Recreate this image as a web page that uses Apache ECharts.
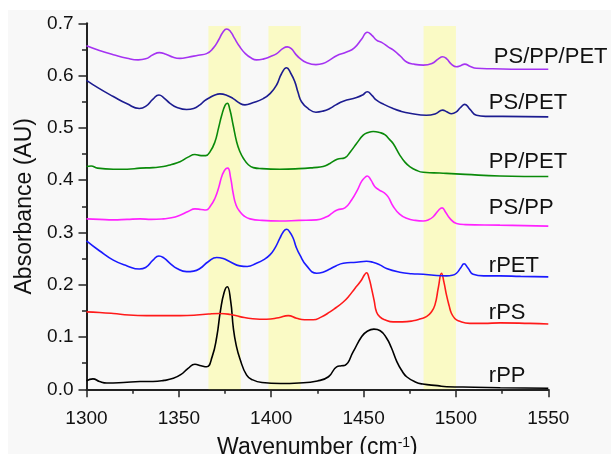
<!DOCTYPE html>
<html>
<head>
<meta charset="utf-8">
<script src="https://cdn.jsdelivr.net/npm/echarts@6/dist/echarts.min.js"></script>
<style>
  html, body { margin: 0; padding: 0; background: #ffffff; }
  #chart { width: 611px; height: 454px; }
</style>
</head>
<body>
<div id="chart"></div>
<script>
// FTIR absorbance spectra, 1300-1550 cm-1, stacked with vertical offsets.

// rPP
const wnPP = [1300, 1303.5, 1307, 1311, 1320, 1329, 1336, 1342, 1347, 1351, 1355, 1358.7, 1362, 1365, 1368, 1370.5, 1372.5, 1374.5, 1376.2, 1378, 1379.5, 1381, 1383, 1386.7, 1390, 1395, 1405, 1415, 1425, 1431, 1435.4, 1438, 1440, 1444.4, 1449, 1452, 1455.6, 1459, 1462.4, 1465, 1468, 1471, 1473.3, 1478, 1482, 1490, 1495, 1510, 1524, 1550];
const absPP = [0.016, 0.020, 0.015, 0.012, 0.013, 0.015, 0.015, 0.017, 0.021, 0.028, 0.040, 0.048, 0.045, 0.043, 0.062, 0.100, 0.150, 0.185, 0.196, 0.170, 0.117, 0.085, 0.059, 0.027, 0.018, 0.013, 0.011, 0.012, 0.016, 0.024, 0.043, 0.045, 0.046, 0.072, 0.101, 0.111, 0.115, 0.112, 0.098, 0.080, 0.053, 0.034, 0.024, 0.014, 0.010, 0.007, 0.005, 0.004, 0.003, 0.002];

// rPS
const wnPS = [1300, 1307, 1314.5, 1323, 1332.6, 1341, 1350.6, 1359.6, 1366, 1372.2, 1378, 1383, 1390, 1397.5, 1404, 1409.2, 1413.7, 1418, 1422.7, 1427, 1431.8, 1435, 1439, 1442, 1445.3, 1448.5, 1450.5, 1451.6, 1453, 1454.3, 1455.7, 1457, 1459, 1461.5, 1466, 1471, 1476.8, 1481, 1484, 1486.5, 1488.6, 1490.5, 1492.2, 1493.5, 1494.9, 1496.3, 1497.6, 1499.5, 1501.2, 1507.5, 1515, 1524, 1540, 1550];
const absPS = [0.148, 0.147, 0.145, 0.142, 0.141, 0.141, 0.141, 0.142, 0.144, 0.145, 0.143, 0.139, 0.135, 0.134, 0.137, 0.141, 0.136, 0.133, 0.133, 0.138, 0.148, 0.156, 0.167, 0.178, 0.193, 0.207, 0.219, 0.223, 0.212, 0.193, 0.170, 0.148, 0.138, 0.133, 0.129, 0.129, 0.131, 0.135, 0.139, 0.147, 0.161, 0.195, 0.222, 0.205, 0.180, 0.160, 0.145, 0.135, 0.131, 0.126, 0.126, 0.127, 0.126, 0.125];

// rPET
const wnPET = [1300, 1307, 1314.5, 1322, 1328.6, 1332, 1336, 1339.2, 1342, 1345.2, 1349, 1354.2, 1358, 1361.4, 1365.9, 1370.5, 1374, 1377.7, 1383, 1387, 1392, 1396, 1399.3, 1402, 1404.7, 1406.5, 1408.3, 1410, 1411.9, 1413.5, 1415.5, 1419, 1424.6, 1428, 1431.8, 1435, 1439, 1446.2, 1451.6, 1455, 1458.8, 1462.4, 1469.6, 1476, 1482.3, 1488, 1494.9, 1498, 1500.3, 1502.5, 1504.4, 1506.5, 1509.3, 1515, 1523.8, 1535, 1550];
const absPET = [0.284, 0.265, 0.247, 0.236, 0.230, 0.233, 0.247, 0.255, 0.251, 0.241, 0.231, 0.225, 0.226, 0.231, 0.244, 0.252, 0.250, 0.244, 0.236, 0.235, 0.241, 0.248, 0.257, 0.270, 0.289, 0.301, 0.306, 0.301, 0.289, 0.272, 0.257, 0.237, 0.222, 0.224, 0.230, 0.236, 0.241, 0.243, 0.245, 0.243, 0.238, 0.231, 0.224, 0.221, 0.220, 0.218, 0.217, 0.218, 0.222, 0.232, 0.240, 0.232, 0.220, 0.217, 0.217, 0.216, 0.215];

// PS/PP
const wnPSPP = [1300, 1307, 1314.5, 1322, 1329, 1335, 1341.6, 1346, 1350.6, 1355, 1358.7, 1362, 1364.7, 1367, 1369.5, 1371.5, 1373.5, 1375.5, 1376.5, 1378, 1379.4, 1381, 1383, 1385.5, 1388.5, 1395, 1404.7, 1415, 1424.6, 1430, 1433, 1435.7, 1439.9, 1443.5, 1446.5, 1449, 1451, 1452, 1454, 1456, 1458.5, 1461, 1463.3, 1466, 1469.5, 1473.3, 1478, 1482.3, 1485, 1487.7, 1490.5, 1492.5, 1494.5, 1496.7, 1500.3, 1505, 1523.8, 1550];
const absPSPP = [0.326, 0.325, 0.324, 0.325, 0.326, 0.325, 0.326, 0.328, 0.333, 0.340, 0.345, 0.344, 0.343, 0.350, 0.365, 0.385, 0.410, 0.422, 0.423, 0.405, 0.375, 0.352, 0.340, 0.331, 0.326, 0.323, 0.322, 0.323, 0.324, 0.330, 0.337, 0.343, 0.347, 0.362, 0.380, 0.398, 0.406, 0.408, 0.400, 0.388, 0.381, 0.376, 0.368, 0.350, 0.335, 0.327, 0.323, 0.322, 0.324, 0.330, 0.342, 0.347, 0.338, 0.327, 0.317, 0.315, 0.314, 0.312];

// PP/PET
const wnPPPET = [1300, 1302.5, 1306, 1314.5, 1322, 1329, 1336, 1341.6, 1346, 1350.6, 1355, 1358.7, 1362, 1364.5, 1367, 1369.5, 1371.5, 1373.2, 1375, 1376.2, 1377.6, 1379.4, 1381.3, 1383, 1384.9, 1387.5, 1390.3, 1395, 1404.7, 1415, 1423, 1428.1, 1431.8, 1435.7, 1439.9, 1443, 1446.2, 1449.8, 1452.5, 1455.2, 1458.8, 1461.5, 1464, 1466, 1469.6, 1472.5, 1475, 1478.5, 1482.3, 1488, 1494.9, 1505, 1523.8, 1550];
const absPPPET = [0.426, 0.427, 0.423, 0.421, 0.421, 0.423, 0.424, 0.426, 0.430, 0.435, 0.444, 0.449, 0.447, 0.447, 0.455, 0.473, 0.500, 0.524, 0.543, 0.547, 0.535, 0.505, 0.473, 0.455, 0.442, 0.430, 0.424, 0.422, 0.421, 0.422, 0.424, 0.426, 0.432, 0.440, 0.443, 0.455, 0.470, 0.486, 0.491, 0.493, 0.491, 0.487, 0.478, 0.470, 0.448, 0.434, 0.426, 0.419, 0.415, 0.414, 0.413, 0.411, 0.408, 0.407];

// PS/PET
const wnPSPET = [1300, 1307, 1314.5, 1322, 1328.6, 1332, 1336, 1339.2, 1342, 1345.2, 1349, 1354.2, 1358, 1361.4, 1364, 1366.8, 1369.5, 1372.2, 1375.5, 1379.4, 1383, 1385.8, 1390, 1395.7, 1399.5, 1402.9, 1405.5, 1408.3, 1410.5, 1412.8, 1414.5, 1416.4, 1420, 1424.2, 1428, 1431.7, 1435, 1439, 1446.2, 1449.5, 1452, 1454.5, 1457, 1461, 1466, 1470, 1475, 1484, 1489, 1492.8, 1495, 1497.6, 1500, 1502.5, 1504.8, 1507.5, 1511.1, 1516, 1525, 1550];
const absPSPET = [0.591, 0.575, 0.560, 0.546, 0.537, 0.541, 0.555, 0.563, 0.557, 0.547, 0.539, 0.535, 0.537, 0.544, 0.552, 0.558, 0.563, 0.565, 0.563, 0.556, 0.547, 0.544, 0.548, 0.556, 0.566, 0.582, 0.603, 0.615, 0.605, 0.588, 0.568, 0.550, 0.537, 0.530, 0.532, 0.537, 0.544, 0.551, 0.558, 0.563, 0.569, 0.562, 0.553, 0.545, 0.537, 0.532, 0.528, 0.524, 0.527, 0.534, 0.531, 0.527, 0.530, 0.539, 0.545, 0.536, 0.524, 0.522, 0.522, 0.521];

// PS/PP/PET
const wnPSPPPET = [1300, 1307, 1314.5, 1322, 1328, 1332, 1336, 1339.4, 1343, 1347, 1350.6, 1355, 1360.5, 1365, 1368.5, 1371.5, 1374, 1375.9, 1378, 1380, 1383, 1386, 1389, 1392, 1396, 1399.3, 1403, 1406, 1408.7, 1411, 1413, 1415.5, 1419, 1424.2, 1428, 1431.8, 1435.4, 1440.8, 1445, 1449, 1452, 1454.5, 1457, 1460, 1463.3, 1466, 1470, 1473.3, 1477, 1482.3, 1487, 1490.5, 1492.8, 1495, 1497.5, 1500.3, 1502.5, 1504.8, 1507.5, 1511.1, 1520, 1535, 1550];
const absPSPPPET = [0.657, 0.648, 0.640, 0.633, 0.630, 0.632, 0.640, 0.644, 0.641, 0.635, 0.633, 0.635, 0.639, 0.642, 0.652, 0.668, 0.684, 0.689, 0.684, 0.672, 0.655, 0.642, 0.634, 0.630, 0.632, 0.636, 0.642, 0.651, 0.655, 0.651, 0.642, 0.633, 0.625, 0.621, 0.623, 0.630, 0.638, 0.645, 0.653, 0.670, 0.683, 0.677, 0.668, 0.663, 0.655, 0.649, 0.637, 0.626, 0.622, 0.620, 0.623, 0.632, 0.636, 0.632, 0.622, 0.617, 0.619, 0.622, 0.618, 0.614, 0.613, 0.612, 0.612];

// Highlighted wavenumber windows
const bandStart = [1366, 1398.5, 1482.5];
const bandEnd = [1383.5, 1416, 1500];
const bandTop = 0.695;

// Axis ticks
const xTicks = [1300, 1350, 1400, 1450, 1500, 1550];
const yTicks = [0.0, 0.1, 0.2, 0.3, 0.4, 0.5, 0.6, 0.7];

const FONT = '"Liberation Sans", Arial, Helvetica, sans-serif';

const zip = (xs, ys) => xs.map((x, i) => [x, ys[i]]);

// name, x values, y values, colour, label anchor [wavenumber, absorbance]
const spectra = [
  { name: 'rPP',       x: wnPP,      y: absPP,      color: '#000000', tag: [1517.8, 0.026] },
  { name: 'rPS',       x: wnPS,      y: absPS,      color: '#ff1a1a', tag: [1517.8, 0.146] },
  { name: 'rPET',      x: wnPET,     y: absPET,     color: '#1a1aff', tag: [1517.8, 0.236] },
  { name: 'PS/PP',     x: wnPSPP,    y: absPSPP,    color: '#ff22ff', tag: [1517.8, 0.346] },
  { name: 'PP/PET',    x: wnPPPET,   y: absPPPET,   color: '#0a8a0a', tag: [1517.8, 0.435] },
  { name: 'PS/PET',    x: wnPSPET,   y: absPSPET,   color: '#1c1c90', tag: [1517.8, 0.547] },
  { name: 'PS/PP/PET', x: wnPSPPPET, y: absPSPPPET, color: '#a533f2', tag: [1520.5, 0.635] }
];

const series = spectra.map(s => ({
  name: s.name,
  type: 'line',
  data: zip(s.x, s.y),
  showSymbol: false,
  smooth: 0.5,
  lineStyle: { color: s.color, width: 1.6 },
  itemStyle: { color: s.color },
  z: 2,
  animation: false,
  markPoint: {
    silent: true,
    symbol: 'circle',
    symbolSize: 0,
    animation: false,
    label: {
      show: true,
      position: 'right',
      distance: 0,
      formatter: s.name,
      fontFamily: FONT,
      fontSize: 22,
      color: '#111111'
    },
    data: [{ coord: s.tag, value: s.name }]
  }
}));

// translucent yellow windows drawn over the spectra
series.push({
  name: 'bands',
  type: 'line',
  data: [],
  z: 5,
  silent: true,
  animation: false,
  markArea: {
    silent: true,
    animation: false,
    itemStyle: { color: 'rgba(255,255,80,0.30)' },
    data: bandStart.map((b, i) => [
      { xAxis: b, yAxis: 0 },
      { xAxis: bandEnd[i], yAxis: bandTop }
    ])
  }
});

const chart = echarts.init(document.getElementById('chart'), null, { renderer: 'canvas' });

chart.setOption({
  animation: false,
  backgroundColor: '#ffffff',
  graphic: [{
    type: 'rect',
    z: -10,
    silent: true,
    shape: { x: 8, y: 10, width: 603, height: 444 },
    style: { fill: '#f8f8f8' }
  }],
  grid: {
    left: 86.5,
    right: 62.7,
    top: 23.3,
    bottom: 64.7,
    containLabel: false,
    outerBoundsMode: 'none'
  },
  xAxis: {
    type: 'value',
    min: xTicks[0],
    max: xTicks[xTicks.length - 1],
    interval: xTicks[1] - xTicks[0],
    name: 'Wavenumber (cm{sup|-1})',
    nameLocation: 'middle',
    nameGap: 47,
    nameTextStyle: {
      fontFamily: FONT,
      fontSize: 23,
      color: '#111111',
      rich: {
        sup: { fontFamily: FONT, fontSize: 14, color: '#111111', verticalAlign: 'top' }
      }
    },
    axisLine: { show: true, onZero: false, lineStyle: { color: '#222222', width: 2 } },
    axisTick: { show: true, inside: false, length: 8, lineStyle: { color: '#222222', width: 1.5 } },
    minorTick: { show: true, splitNumber: 2, length: 4.5, lineStyle: { color: '#222222', width: 1.5 } },
    splitLine: { show: false },
    minorSplitLine: { show: false },
    axisLabel: {
      fontFamily: FONT,
      fontSize: 19,
      color: '#111111',
      margin: 20,
      formatter: v => String(v)
    }
  },
  yAxis: {
    type: 'value',
    min: yTicks[0],
    max: yTicks[yTicks.length - 1],
    interval: 0.1,
    name: 'Absorbance (AU)',
    nameLocation: 'middle',
    nameRotate: 90,
    nameGap: 50,
    nameTextStyle: { fontFamily: FONT, fontSize: 23, color: '#111111' },
    axisLine: { show: true, onZero: false, lineStyle: { color: '#222222', width: 2 } },
    axisTick: { show: true, inside: false, length: 8, lineStyle: { color: '#222222', width: 1.5 } },
    minorTick: { show: true, splitNumber: 2, length: 4.5, lineStyle: { color: '#222222', width: 1.5 } },
    splitLine: { show: false },
    minorSplitLine: { show: false },
    axisLabel: {
      fontFamily: FONT,
      fontSize: 19,
      color: '#111111',
      margin: 13,
      formatter: v => v.toFixed(1)
    }
  },
  series: series
});
</script>
</body>
</html>
